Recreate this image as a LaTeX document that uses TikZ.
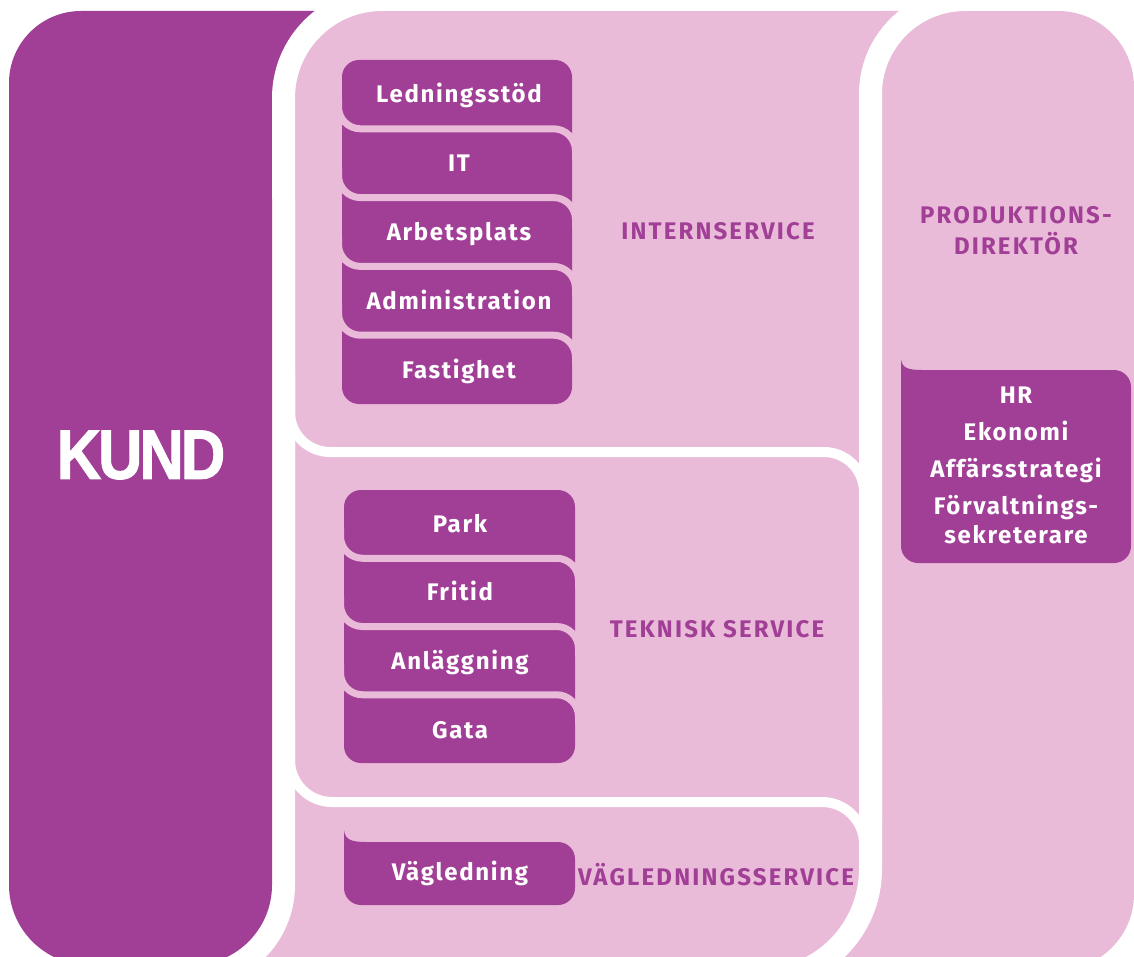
\documentclass[tikz,border=0pt]{standalone}
\usepackage{fontspec}
\setmainfont{Fira Sans}
\newfontfamily\rutfont[LetterSpace=7]{Fira Sans}
\newfontfamily\rubrikfont[LetterSpace=9]{Fira Sans}
\newfontfamily\kundfont[LetterSpace=-5, FakeBold=1.5]{Liberation Sans}
\definecolor{lila}{RGB}{161,62,150}
\definecolor{rosa}{RGB}{233,187,216}

\tikzset{
  vitband/.style={draw=white, line width=11.5pt},
  vitlinje/.style={draw=white, line width=5pt},
  skilje/.style={draw=rosa, line width=3.5pt, rounded corners=11pt},
  ruta/.style={text=white, inner sep=0pt, text height=8.3pt, text depth=0pt,
    font=\rutfont\bfseries\fontsize{12}{14}\selectfont},
  rubrik/.style={ruta, text=lila, font=\rubrikfont\bfseries\fontsize{12}{14}\selectfont}
}

\begin{document}
\begin{tikzpicture}[x=0.5pt, y=-0.5pt]
  \useasboundingbox (0,0) rectangle (1134,957);
  \clip (0,11) rectangle (1134,957);

  \fill[rosa, rounded corners=38pt] (200,11) rectangle (1134,970);
  \fill[lila, rounded corners=36pt] (9,11) rectangle (420,500);
  \fill[lila] (200,11) rectangle (420,500);
  \fill[lila] (9,300) rectangle (420,500);

  \fill[rosa, rounded corners=49.25pt] (283.5,-0.5) rectangle (700,700);
  \draw[vitband, rounded corners=49.25pt] (283.5,600) -- (283.5,-0.5) -- (880,-0.5);

  \begin{scope}
    \clip (0,200) rectangle (420,1000);
    \draw[white, line width=23pt, rounded corners=40pt] (9,11) rectangle (272,965);
    \fill[lila, rounded corners=40pt] (9,11) rectangle (272,965);
  \end{scope}

  \draw[vitband, rounded corners=47.25pt] (870.5,820) -- (870.5,-0.5) -- (1100,-0.5);
  \draw[vitband, rounded corners=55.5pt] (870.5,700) -- (870.5,980) -- (600,980);
  \draw[vitlinje, rounded corners=20pt] (290,370) -- (290,452) -- (864,452) -- (864,492);
  \draw[vitlinje, rounded corners=21pt] (290,720) -- (290,802) -- (864,802) -- (864,844);

  \fill[lila, rounded corners=8.5pt] (342,60) rectangle (572,404);
  \foreach \y in {128.8,197.6,266.4,335.2}
    \draw[skilje] (338.5,\y-30) -- (338.5,\y) -- (575.5,\y) -- (575.5,\y+30);

  \fill[lila, rounded corners=8.5pt] (344,490) rectangle (575,763);
  \foreach \y in {558.25,626.5,694.75}
    \draw[skilje] (340.5,\y-30) -- (340.5,\y) -- (578.5,\y) -- (578.5,\y+30);

  \fill[lila, rounded corners=8.5pt] (344,842) rectangle (575,905);
  \fill[lila] (344,830) .. controls (345,840) and (352,842) .. (366,842) -- (366,870) -- (344,870) -- cycle;

  \fill[lila, rounded corners=8.5pt] (901,370) rectangle (1131,563);
  \fill[lila] (901,359) .. controls (902,368) and (908,370) .. (922,370) -- (922,400) -- (901,400) -- cycle;

  \node[text=white, font=\kundfont\bfseries\fontsize{35}{40}\selectfont, xscale=0.88] (kund) at (141,455) {KUND};

  \begin{scope}[every node/.style={ruta}]
    \node (ledning) at (459,94) {Ledningsstöd};
    \node (it) at (459,163) {IT};
    \node (arbetsplats) at (459,232) {Arbetsplats};
    \node (admin) at (459,301) {Administration};
    \node (fastighet) at (459,370) {Fastighet};

    \node (park) at (460,524) {Park};
    \node (fritid) at (460,592) {Fritid};
    \node (anlaggning) at (460,661) {Anläggning};
    \node (gata) at (460,730) {Gata};

    \node (vagledning) at (460,872) {Vägledning};
  \end{scope}

  \node[ruta, text height=, text depth=, align=center, font=\rutfont\bfseries\fontsize{12}{18.5}\selectfont]
    (stab) at (1016,465) {HR\\Ekonomi\\Affärsstrategi\\Förvaltnings-\\[-4pt]sekreterare};

  \begin{scope}[every node/.style={rubrik}]
    \node (intern) at (718,231) {INTERNSERVICE};
    \node (teknisk) at (717,629) {TEKNISK SERVICE};
    \node (vagservice) at (716,877) {VÄGLEDNINGSSERVICE};
  \end{scope}
  \node[rubrik, text height=, text depth=, align=center, font=\rubrikfont\bfseries\fontsize{12}{15.5}\selectfont]
    (direktor) at (1016,230.5) {PRODUKTIONS-\\DIREKTÖR};

\end{tikzpicture}
\end{document}
